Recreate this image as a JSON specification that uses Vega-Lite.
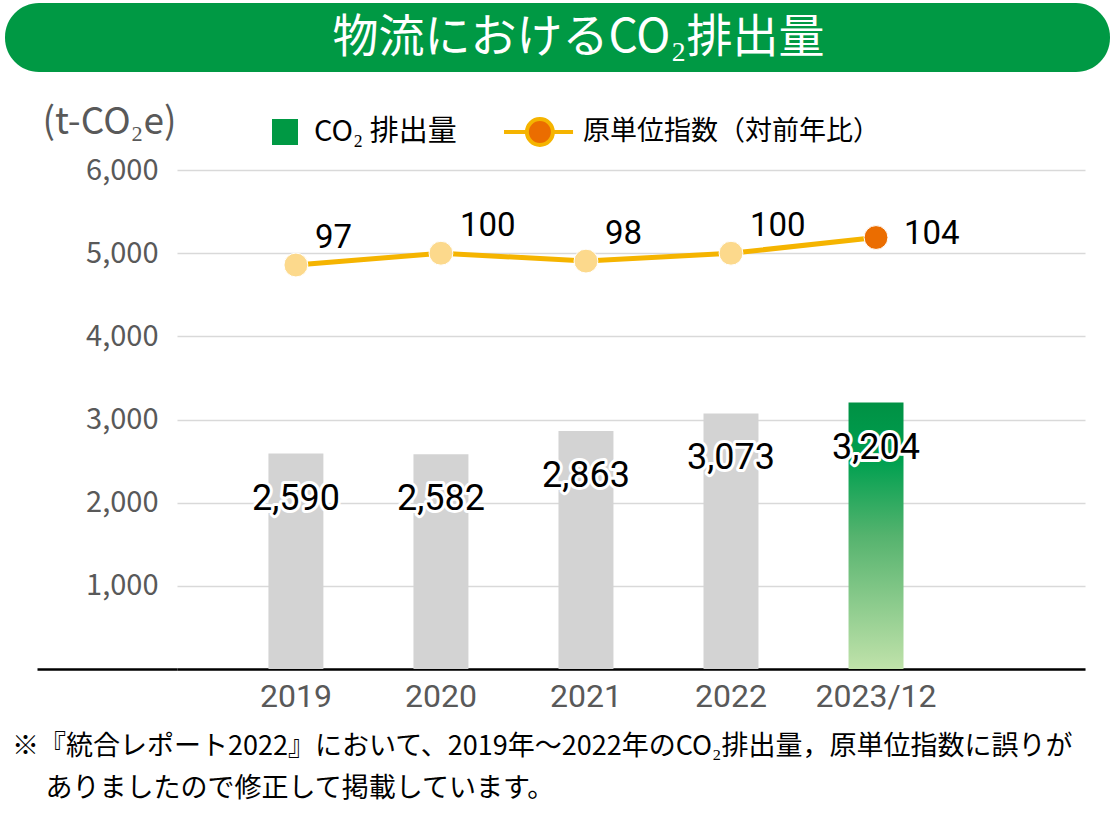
{
  "$schema": "https://vega.github.io/schema/vega-lite/v6.json",
  "padding": {"left": 5, "top": 3, "right": 1, "bottom": 8},
  "background": "white",
  "spacing": 31,
  "config": {"view": {"stroke": null}, "font": "Noto Sans CJK JP"},
  "vconcat": [
    {
      "width": 1105,
      "height": 69,
      "data": {"values": [{"title": "物流におけるCO₂排出量"}]},
      "layer": [
        {"mark": {"type": "rect", "color": "#009944", "cornerRadius": 34}, "encoding": {}},
        {
          "mark": {"type": "text", "color": "white", "fontSize": 46, "font": "Noto Sans CJK JP", "dx": 21, "baseline": "middle", "align": "center"},
          "encoding": {"text": {"field": "title"}}
        }
      ]
    },
    {
      "width": 1080,
      "height": 499,
      "data": {"values": [
        {"year": "2019", "co2": 2590, "idx": 97},
        {"year": "2020", "co2": 2582, "idx": 100},
        {"year": "2021", "co2": 2863, "idx": 98},
        {"year": "2022", "co2": 3073, "idx": 100},
        {"year": "2023/12", "co2": 3204, "idx": 104}
      ]},
      "title": {
        "text": ["※『統合レポート2022』において、2019年～2022年のCO₂排出量，原単位指数に誤りが", "\u2800\u2002ありましたので修正して掲載しています。"],
        "orient": "bottom", "anchor": "start", "frame": "group", "dx": 7, "offset": 22,
        "font": "Noto Sans CJK JP", "fontSize": 27, "fontWeight": "normal", "color": "#000", "lineHeight": 42
      },
      "layer": [
        {
          "encoding": {
            "x": {"field": "year", "type": "nominal", "sort": null,
              "scale": {"range": [172, 1080], "paddingInner": 0.621, "paddingOuter": 0.941, "align": 0.335},
              "axis": {"title": null, "ticks": false, "domainColor": "#000", "domainWidth": 2.5, "labelAngle": 0,
                "labelFont": "Roboto", "labelFontSize": 32, "labelColor": "#595959", "labelPadding": 12, "grid": false}},
            "y": {"field": "co2", "type": "quantitative",
              "scale": {"domain": [0, 6000], "nice": false},
              "axis": {
                "values": [0, 1000, 2000, 3000, 4000, 5000, 6000],
                "offset": -172, "domain": false, "ticks": true, "tickSize": 140, "tickWidth": 2.5,
                "tickColor": {"condition": {"test": "datum.value === 0", "value": "#000"}, "value": "transparent"},
                "labelPadding": -121,
                "labelExpr": "datum.value === 0 ? '' : format(datum.value, ',')",
                "labelFont": "Noto Sans CJK JP", "labelFontSize": 29, "labelColor": "#595959",
                "grid": true, "gridColor": "#D9D9D9", "gridWidth": 1.5,
                "title": "(t-CO₂e)", "titleAngle": 0, "titleX": -1, "titleY": -48, "titleAlign": "right", "titleBaseline": "middle",
                "titleFont": "Noto Sans CJK JP", "titleFontSize": 37, "titleFontWeight": "normal", "titleColor": "#595959"
              }}
          },
          "layer": [
            {"transform": [{"filter": "datum.year !== '2023/12'"}], "mark": {"type": "bar", "color": "#D3D3D3"}},
            {"transform": [{"filter": "datum.year === '2023/12'"}], "mark": {"type": "bar", "color": {"gradient": "linear", "x1": 0, "y1": 0, "x2": 0, "y2": 1,
              "stops": [{"offset": 0, "color": "#009144"}, {"offset": 0.22, "color": "#00A050"}, {"offset": 0.5, "color": "#55B36E"}, {"offset": 1, "color": "#C0E2AA"}]}}},
            {"mark": {"type": "text", "dy": 45, "baseline": "middle", "align": "center", "font": "Roboto", "fontSize": 36, "stroke": "white", "strokeWidth": 6, "strokeJoin": "round", "fill": "white"},
              "encoding": {"text": {"field": "co2", "format": ","}}},
            {"mark": {"type": "text", "dy": 45, "baseline": "middle", "align": "center", "font": "Roboto", "fontSize": 36, "color": "#000"},
              "encoding": {"text": {"field": "co2", "format": ","}}}
          ]
        },
        {
          "encoding": {
            "x": {"field": "year", "type": "nominal", "sort": null,
              "scale": {"range": [172, 1080], "paddingInner": 0.621, "paddingOuter": 0.941, "align": 0.335}},
            "y": {"field": "idx", "type": "quantitative", "scale": {"domain": [-5.9, 121.2], "nice": false, "zero": false}, "axis": null}
          },
          "layer": [
            {"mark": {"type": "line", "color": "#F5B400", "strokeWidth": 5}},
            {"mark": {"type": "point", "filled": true, "size": 570, "opacity": 1, "stroke": "white", "strokeWidth": 1},
              "encoding": {"color": {"condition": {"test": "datum.year === '2023/12'", "value": "#EB6D00"}, "value": "#FCD98C"}}},
            {"transform": [{"filter": "datum.year !== '2023/12'"}],
              "mark": {"type": "text", "align": "left", "baseline": "middle", "dx": 19, "dy": -27, "font": "Roboto", "fontSize": 33, "color": "#000"},
              "encoding": {"text": {"field": "idx"}}},
            {"transform": [{"filter": "datum.year === '2023/12'"}],
              "mark": {"type": "text", "align": "left", "baseline": "middle", "dx": 28, "dy": -4, "font": "Roboto", "fontSize": 33, "color": "#000"},
              "encoding": {"text": {"field": "idx"}}}
          ]
        },
        {
          "data": {"values": [{"series": "CO₂ 排出量"}, {"series": "原単位指数（対前年比）"}]},
          "mark": {"type": "point", "filled": true, "opacity": 0},
          "encoding": {
            "color": {"field": "series", "type": "nominal",
              "scale": {"domain": ["CO₂ 排出量", "原単位指数（対前年比）"], "range": ["#009944", "#EB6D00"]},
              "legend": {
                "orient": "none", "legendX": 265, "legendY": 114, "direction": "horizontal", "title": null,
                "labelFont": "Noto Sans CJK JP", "labelFontSize": 27, "labelColor": "#000", "labelOffset": 14, "labelLimit": 500,
                "symbolSize": 676, "symbolType": "square", "columnPadding": 22, "padding": 0,
                "encoding": {
                  "symbols": {
                    "opacity": {"value": 1},
                    "fillOpacity": {"value": 1},
                    "strokeOpacity": {"value": 1},
                    "shape": {"condition": {"test": "datum.value === '原単位指数（対前年比）'", "value": "M0.77,0H2.53M4.53,0H6.08M2.53,0A1,1 0 1,1 4.53,0A1,1 0 1,1 2.53,0"}, "value": "square"},
                    "fill": {"condition": {"test": "datum.value === 'CO₂ 排出量'", "value": {"gradient": "linear", "x1": 0, "y1": 0, "x2": 0, "y2": 1, "stops": [{"offset": 0, "color": "#009944"}, {"offset": 1, "color": "#C7E6B3"}]}}, "value": "#EB6D00"},
                    "stroke": {"condition": {"test": "datum.value === 'CO₂ 排出量'", "value": "transparent"}, "value": "#F5B400"},
                    "strokeWidth": {"value": 4}
                  },
                  "labels": {
                    "dx": {"condition": {"test": "datum.value === '原単位指数（対前年比）'", "value": 60}, "value": 0},
                    "fontSize": {"condition": {"test": "datum.value === 'CO₂ 排出量'", "value": 29}, "value": 27}
                  }
                }
              }}
          }
        }
      ],
      "resolve": {"scale": {"y": "independent"}}
    }
  ]
}
